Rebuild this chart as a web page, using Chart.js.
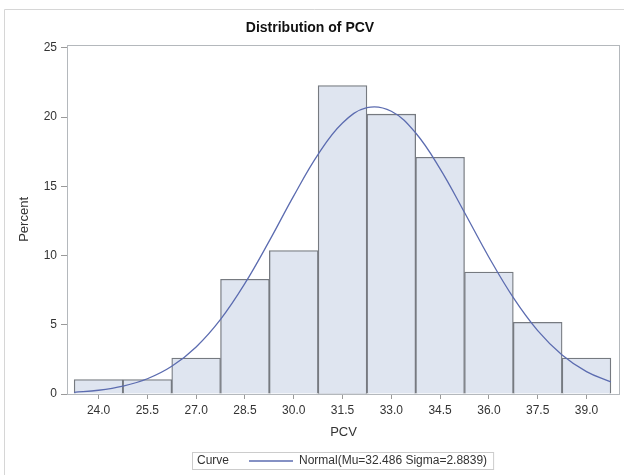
<!DOCTYPE html>
<html>
<head>
<meta charset="utf-8">
<title>Distribution of PCV</title>
<script src="https://cdn.jsdelivr.net/npm/chart.js@4/dist/chart.umd.min.js"></script>
<style>
    html, body { margin: 0; padding: 0; background: #ffffff; }
    #wrap { width: 624px; height: 475px; }
</style>
</head>
<body>
<div id="wrap"><canvas id="graphique" width="624" height="475"></canvas></div>
<script>
const binMidpoints = [24.0, 25.5, 27.0, 28.5, 30.0, 31.5, 33.0, 34.5, 36.0, 37.5, 39.0];
const percentValues = [1.04, 1.04, 2.59, 8.29, 10.36, 22.28, 20.21, 17.10, 8.81, 5.18, 2.59];

// points de la courbe normale (Mu=32.486 Sigma=2.8839)
const curveX = [23.25, 24.0, 24.75, 25.5, 26.25, 27.0, 27.75, 28.5, 29.25, 30.0, 30.75, 31.5,
    32.25, 33.0, 33.75, 34.5, 35.25, 36.0, 36.75, 37.5, 38.25, 39.0, 39.75];
const curveY = [0.12, 0.27, 0.57, 1.10, 2.00, 3.40, 5.39, 7.99, 11.06, 14.31, 17.31, 19.57,
    20.68, 20.42, 18.85, 16.26, 13.11, 9.88, 6.96, 4.58, 2.82, 1.62, 0.87];

const xTicks = [24.0, 25.5, 27.0, 28.5, 30.0, 31.5, 33.0, 34.5, 36.0, 37.5, 39.0];
const yTicks = [0, 5, 10, 15, 20, 25];

const titre = 'Distribution of PCV';
const titreX = 'PCV';
const titreY = 'Percent';
const legendeTitre = 'Curve';
const legendeCourbe = 'Normal(Mu=32.486 Sigma=2.8839)';

const couleurCourbe = '#5c6cb0';
const police = '"Liberation Sans", Arial, sans-serif';

/**
 * Cadre gris autour de la zone de tracé + bord de la page
 */
const cadrePlugin = {
    id: 'cadre',
    beforeDraw(chart) {
        const ctx = chart.ctx;
        ctx.save();
        ctx.strokeStyle = '#d6d6d6';
        ctx.lineWidth = 1;
        ctx.beginPath();
        ctx.moveTo(4.5, 475);
        ctx.lineTo(4.5, 9.5);
        ctx.lineTo(624, 9.5);
        ctx.stroke();
        ctx.restore();
    },
    afterDatasetsDraw(chart) {
        const a = chart.chartArea;
        const ctx = chart.ctx;
        ctx.save();
        ctx.strokeStyle = '#b4b8bc';
        ctx.lineWidth = 1;
        ctx.strokeRect(Math.round(a.left) + 0.5, Math.round(a.top) + 0.5,
            Math.round(a.right - a.left) - 1, Math.round(a.bottom - a.top));
        ctx.restore();
    }
};

/**
 * Légende en bas : "Curve" ——— Normal(...)
 */
const legendePlugin = {
    id: 'legendeCourbe',
    afterDraw(chart) {
        const ctx = chart.ctx;
        ctx.save();
        ctx.font = '12px ' + police;
        const largeurTexte = ctx.measureText(legendeCourbe).width;
        const x0 = 192;
        const y0 = 452;
        const xLigne = 249;
        const xTexte = 299;
        const largeur = xTexte + largeurTexte + 6 - x0;

        ctx.fillStyle = '#ffffff';
        ctx.fillRect(x0 + 0.5, y0 + 0.5, largeur, 17);
        ctx.strokeStyle = '#cccccc';
        ctx.lineWidth = 1;
        ctx.strokeRect(x0 + 0.5, y0 + 0.5, largeur, 17);

        ctx.fillStyle = '#333333';
        ctx.textBaseline = 'middle';
        ctx.textAlign = 'left';
        ctx.fillText(legendeTitre, 197, y0 + 9);
        ctx.fillText(legendeCourbe, xTexte, y0 + 9);

        ctx.strokeStyle = couleurCourbe;
        ctx.lineWidth = 1.3;
        ctx.beginPath();
        ctx.moveTo(xLigne, y0 + 9);
        ctx.lineTo(xLigne + 44, y0 + 9);
        ctx.stroke();
        ctx.restore();
    }
};

const ctx = document.getElementById('graphique').getContext('2d');
new Chart(ctx, {
    type: 'bar',
    data: {
        datasets: [
            {
                type: 'line',
                label: legendeCourbe,
                data: curveX.map((x, i) => ({x: x, y: curveY[i]})),
                borderColor: couleurCourbe,
                borderWidth: 1.3,
                pointRadius: 0,
                fill: false,
                tension: 0.4,
                order: 0
            },
            {
                label: 'Percent',
                data: binMidpoints.map((x, i) => ({x: x, y: percentValues[i]})),
                backgroundColor: '#dfe5f0',
                borderColor: '#767a80',
                borderWidth: 1.3,
                barPercentage: 1,
                categoryPercentage: 1,
                order: 1
            }
        ]
    },
    options: {
        responsive: false,
        animation: false,
        layout: {
            padding: {left: 0, right: 4, top: 0, bottom: 0}
        },
        scales: {
            x: {
                type: 'linear',
                min: 23.03,
                max: 40.03,
                offset: false,
                afterBuildTicks: (axis) => {
                    axis.ticks = xTicks.map(v => ({value: v}));
                },
                afterFit: (axis) => {
                    axis.height = 81;
                    axis.paddingLeft = 0;
                    axis.paddingRight = 0;
                },
                ticks: {
                    autoSkip: false,
                    maxRotation: 0,
                    padding: 4,
                    color: '#333333',
                    font: {family: police, size: 12},
                    callback: (v) => Number(v).toFixed(1)
                },
                grid: {
                    display: true,
                    drawOnChartArea: false,
                    offset: false,
                    tickLength: 5,
                    color: '#9a9a9a'
                },
                border: {display: false},
                title: {
                    display: true,
                    text: titreX,
                    color: '#333333',
                    font: {family: police, size: 13},
                    padding: {top: 0, bottom: 35}
                }
            },
            y: {
                type: 'linear',
                min: 0,
                max: 25.22,
                afterBuildTicks: (axis) => {
                    axis.ticks = yTicks.map(v => ({value: v}));
                },
                afterFit: (axis) => {
                    axis.width = 67;
                },
                ticks: {
                    padding: 4,
                    color: '#333333',
                    font: {family: police, size: 12}
                },
                grid: {
                    display: true,
                    drawOnChartArea: false,
                    tickLength: 6,
                    color: '#9a9a9a'
                },
                border: {display: false},
                title: {
                    display: true,
                    text: titreY,
                    color: '#333333',
                    font: {family: police, size: 13},
                    padding: {top: 17, bottom: 0}
                }
            }
        },
        plugins: {
            legend: {display: false},
            tooltip: {enabled: false},
            title: {
                display: true,
                text: titre,
                color: '#111111',
                font: {family: police, size: 14, weight: 'bold'},
                padding: {top: 20, bottom: 8}
            }
        }
    },
    plugins: [cadrePlugin, legendePlugin]
});
</script>
</body>
</html>
